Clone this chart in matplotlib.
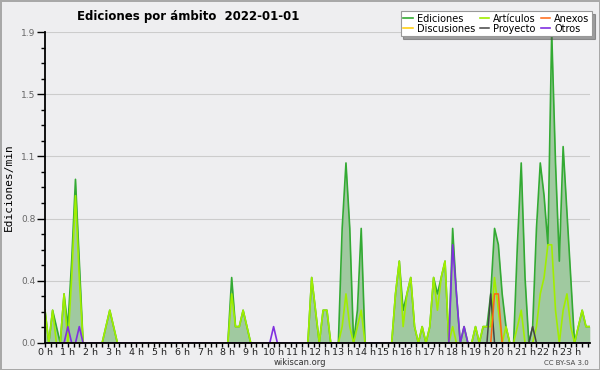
import matplotlib
matplotlib.use("Agg")
import matplotlib.pyplot as plt
import numpy as np
from matplotlib.ticker import FixedLocator, MultipleLocator

# 10-minute bins over the day (144 points), edits per minute
ediciones = [
    0.2, 0, 0.2, 0.1, 0, 0.3, 0.1, 0.5, 1.0, 0.5, 0, 0,
    0, 0, 0, 0, 0.1, 0.2, 0.1, 0, 0, 0, 0, 0,
    0, 0, 0, 0, 0, 0, 0, 0, 0, 0, 0, 0,
    0, 0, 0, 0, 0, 0, 0, 0, 0, 0, 0, 0,
    0, 0.4, 0.1, 0.1, 0.2, 0.1, 0, 0, 0, 0, 0, 0,
    0, 0, 0, 0, 0, 0, 0, 0, 0, 0, 0.4, 0.2,
    0, 0.2, 0.2, 0, 0, 0, 0.7, 1.1, 0.7, 0, 0.2, 0.7,
    0, 0, 0, 0, 0, 0, 0, 0, 0.3, 0.5, 0.2, 0.3,
    0.4, 0.1, 0, 0.1, 0, 0.1, 0.4, 0.3, 0.4, 0.5, 0, 0.7,
    0.3, 0, 0.1, 0, 0, 0.1, 0, 0.1, 0.1, 0.3, 0.7, 0.6,
    0.3, 0.1, 0, 0, 0.6, 1.1, 0.4, 0, 0.1, 0.7, 1.1, 0.9,
    0.6, 1.9, 1.1, 0.5, 1.2, 0.8, 0.4, 0, 0.1, 0.2, 0.1, 0.1,
]
articulos = [
    0.2, 0, 0.2, 0, 0, 0.3, 0, 0.4, 0.9, 0.4, 0, 0,
    0, 0, 0, 0, 0.1, 0.2, 0.1, 0, 0, 0, 0, 0,
    0, 0, 0, 0, 0, 0, 0, 0, 0, 0, 0, 0,
    0, 0, 0, 0, 0, 0, 0, 0, 0, 0, 0, 0,
    0, 0.3, 0.1, 0.1, 0.2, 0.1, 0, 0, 0, 0, 0, 0,
    0, 0, 0, 0, 0, 0, 0, 0, 0, 0, 0.4, 0.2,
    0, 0.2, 0.2, 0, 0, 0, 0.1, 0.3, 0.1, 0, 0.1, 0.2,
    0, 0, 0, 0, 0, 0, 0, 0, 0.3, 0.5, 0.1, 0.3,
    0.4, 0.1, 0, 0.1, 0, 0.1, 0.4, 0.2, 0.4, 0.5, 0, 0.1,
    0, 0, 0, 0, 0, 0.1, 0, 0.1, 0.1, 0.1, 0.4, 0.2,
    0, 0.1, 0, 0, 0.1, 0.2, 0, 0, 0, 0.1, 0.3, 0.4,
    0.6, 0.6, 0.2, 0, 0.2, 0.3, 0.1, 0, 0.1, 0.2, 0.1, 0.1,
]
# sparse series: bin index -> value
anexos_idx = [118, 119]
anexos_val = [0.3, 0.3]
proyecto_idx = [117, 128]
proyecto_val = [0.3, 0.1]
otros_idx = [6, 9, 60, 107, 108, 110]
otros_val = [0.1, 0.1, 0.1, 0.6, 0.3, 0.1]
discusiones_idx = []
discusiones_val = []

hours = [f"{h} h" for h in range(24)]

n = len(ediciones)
x = np.arange(n) / 6.0


def dense(idx, val):
    arr = np.zeros(n)
    arr[idx] = val
    return arr


anexos = dense(anexos_idx, anexos_val)
proyecto = dense(proyecto_idx, proyecto_val)
otros = dense(otros_idx, otros_val)
discusiones = dense(discusiones_idx, discusiones_val)

colors = {
    'ediciones': '#33aa33',
    'fill': '#a0c9a0',
    'articulos': '#a0ee00',
    'anexos': '#ff6611',
    'discusiones': '#ffcc00',
    'proyecto': '#444444',
    'otros': '#8030e0',
    'background': '#eeeef0',
}

fig = plt.figure(figsize=(6, 3.7), dpi=100, facecolor=colors['background'],
                 edgecolor='#a8a8a8', linewidth=2)
ax = fig.add_axes([0.075, 0.073, 0.908, 0.8405])
ax.set_facecolor(colors['background'])

ax.fill_between(x, ediciones, 0, color=colors['fill'], lw=0, zorder=1)
ax.plot(x, ediciones, color=colors['ediciones'], lw=1.2, label="Ediciones", zorder=2)
ax.plot(x, discusiones, color=colors['discusiones'], lw=1.1, label="Discusiones", zorder=2)
ax.plot(x, articulos, color=colors['articulos'], lw=1.2, label="Artículos", zorder=2.1)
ax.plot(x, proyecto, color=colors['proyecto'], lw=1.1, label="Proyecto", zorder=2.2)
ax.plot(x, anexos, color=colors['anexos'], lw=1.1, label="Anexos", zorder=2.2)
ax.plot(x, otros, color=colors['otros'], lw=1.2, label="Otros", zorder=2.3)

ymax = 1.9
ax.set_xlim(0, x[-1])
ax.set_ylim(0, ymax)
yticks = np.linspace(0, ymax, 6)
ax.yaxis.set_major_locator(FixedLocator(yticks))
ax.set_yticklabels([f"{v:.1f}" for v in yticks])
ax.yaxis.set_minor_locator(MultipleLocator(ymax / 20))
ax.set_xticks(range(24))
ax.set_xticklabels(hours)
ax.xaxis.set_minor_locator(MultipleLocator(0.25))

ax.grid(True, axis='y', color='#cccccc', lw=0.8)
ax.set_axisbelow(True)
for side in ['top', 'right']:
    ax.spines[side].set_visible(False)
for side in ['left', 'bottom']:
    ax.spines[side].set_color('black')
    ax.spines[side].set_linewidth(1.3)
    ax.spines[side].set_zorder(5)

ax.tick_params(axis='y', which='major', length=6, width=1, labelsize=6.5,
               labelcolor='#666666', pad=1)
ax.tick_params(axis='y', which='minor', length=3, width=1)
ax.tick_params(axis='x', which='both', length=3, width=1, labelsize=6.8,
               labelcolor='#222222', pad=0.5)

ax.set_ylabel("Ediciones/min", family='DejaVu Sans Mono', fontsize=8, labelpad=2)
ax.yaxis.set_label_coords(-0.058, 0.5)

fig.text(0.313, 0.955, "Ediciones por ámbito  2022-01-01", ha='center', va='center',
         fontsize=8.5, fontweight='bold')
fig.text(0.5, 0.02, "wikiscan.org", ha='center', va='center', fontsize=6, color='#333333')
fig.text(0.982, 0.02, "CC BY-SA 3.0", ha='right', va='center', fontsize=5, color='#444444')

handles, labels = ax.get_legend_handles_labels()
order = ["Ediciones", "Discusiones", "Artículos", "Proyecto", "Anexos", "Otros"]
hmap = dict(zip(labels, handles))
leg = fig.legend([hmap[k] for k in order], order, ncol=3, loc='upper right',
                 bbox_to_anchor=(0.99, 0.975), fontsize=7, handlelength=1.0,
                 handletextpad=0.4, columnspacing=0.5, labelspacing=0.0,
                 borderpad=0.25, borderaxespad=0.2, fancybox=False, shadow=True,
                 framealpha=1, edgecolor='#999999')
leg.get_frame().set_linewidth(0.8)

plt.savefig("out.png", dpi=100, facecolor=fig.get_facecolor(), edgecolor=fig.get_edgecolor())
